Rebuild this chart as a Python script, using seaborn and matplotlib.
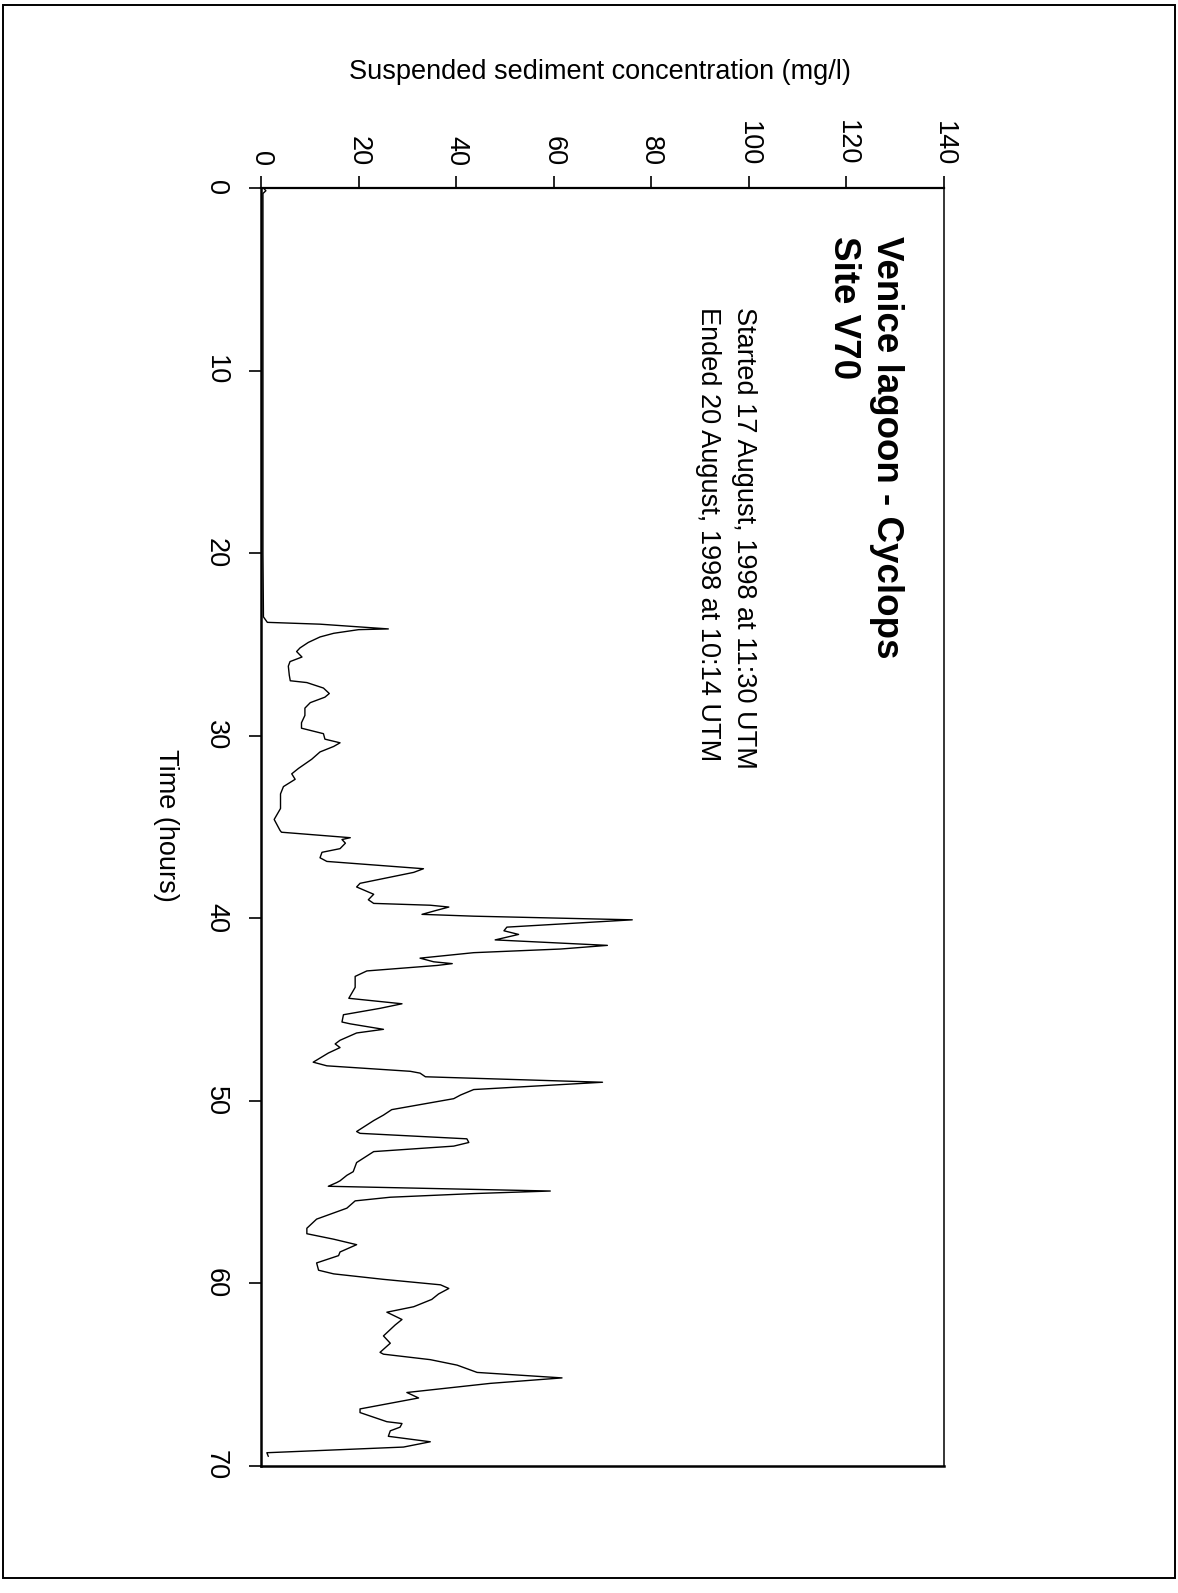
import matplotlib
matplotlib.use("Agg")
import matplotlib.pyplot as plt
from matplotlib.patches import Rectangle
import seaborn as sns
import pandas as pd

# Suspended sediment record, Venice lagoon site V70 (Cyclops sensor)
time_hours = [
    0.0, 0.15, 0.3, 5.0, 10.0, 15.0, 20.0, 23.5, 23.8, 23.9, 24.16, 24.2, 24.4, 24.6,
    24.9, 25.2, 25.4, 25.7, 25.95, 26.2, 26.7, 27.0, 27.1, 27.4, 27.7, 27.9,
    28.2, 28.5, 28.9, 29.3, 29.6, 29.9, 30.2, 30.4, 30.6, 30.9, 31.3, 31.8,
    32.1, 32.4, 32.8, 33.2, 34.0, 34.6, 35.2, 35.3, 35.6, 35.7, 35.9, 36.2,
    36.4, 36.7, 36.9, 37.3, 37.5, 38.1, 38.3, 38.7, 39.0, 39.2, 39.3, 39.4,
    39.6, 39.8, 39.9, 40.1, 40.5, 40.7, 40.9, 41.2, 41.5, 41.7, 41.9, 42.2,
    42.4, 42.5, 42.6, 42.9, 43.2, 43.8, 44.4, 44.7, 44.95, 45.3, 45.7, 45.8,
    46.1, 46.3, 46.7, 46.9, 47.1, 47.4, 47.9, 48.1, 48.4, 48.5, 48.7, 49.0,
    49.4, 49.7, 49.9, 50.5, 50.8, 51.1, 51.7, 51.8, 52.1, 52.3, 52.5, 52.8,
    53.4, 53.9, 54.1, 54.4, 54.5, 54.7, 54.96, 55.1, 55.3, 55.5, 55.9, 56.5,
    57.0, 57.3, 57.6, 57.9, 58.3, 58.5, 58.9, 59.3, 59.5, 59.8, 60.1, 60.3,
    60.6, 60.9, 61.3, 61.6, 62.0, 62.3, 62.9, 63.3, 63.8, 63.9, 64.2, 64.5,
    64.9, 65.2, 65.5, 66.0, 66.3, 66.9, 67.1, 67.6, 67.7, 67.9, 68.1, 68.4,
    68.7, 68.99, 69.3, 69.5,
]
concentration_mgl = [
    0.5, 1.0, 0.4, 0.4, 0.4, 0.4, 0.4, 0.5, 1.3, 12.1, 26.1, 20.0, 14.9, 12.1,
    9.7, 8.0, 7.3, 8.4, 5.95, 5.6, 5.8, 6.0, 9.4, 12.8, 14.0, 13.1,
    10.1, 9.0, 9.0, 8.3, 8.3, 12.8, 13.1, 16.2, 14.9, 12.1, 10.4, 7.7,
    6.3, 7.0, 4.6, 4.0, 4.0, 2.7, 3.9, 4.2, 18.3, 16.6, 17.3, 16.2,
    12.5, 12.1, 13.5, 33.3, 31.3, 20.3, 19.6, 23.1, 22.0, 23.1, 34.7, 38.5,
    35.7, 33.0, 43.6, 76.1, 50.4, 49.8, 52.8, 48.0, 71.0, 61.4, 43.6, 32.6,
    35.4, 39.2, 36.1, 21.7, 19.3, 19.3, 18.0, 28.9, 24.4, 16.9, 16.6, 18.3,
    25.1, 19.6, 16.2, 15.2, 16.2, 13.8, 10.7, 13.5, 30.6, 32.6, 33.7, 70.0,
    43.6, 40.9, 39.5, 26.8, 25.1, 23.1, 19.6, 20.3, 42.2, 42.6, 39.5, 23.1,
    19.6, 18.9, 17.6, 16.2, 15.5, 13.8, 59.3, 43.6, 26.5, 19.3, 17.6, 11.4,
    9.4, 9.4, 14.9, 19.6, 16.2, 15.9, 11.4, 11.8, 14.9, 25.1, 36.8, 38.5,
    36.4, 35.0, 31.3, 25.8, 28.9, 27.5, 25.1, 26.5, 24.4, 25.1, 34.7, 40.2,
    44.3, 61.7, 47.0, 29.9, 32.3, 20.3, 20.3, 25.8, 28.9, 28.5, 26.5, 26.1,
    34.7, 29.2, 1.2, 1.5,
]
conc_ticks = [0, 20, 40, 60, 80, 100, 120, 140]
time_ticks = [0, 10, 20, 30, 40, 50, 60, 70]

title_lines = ["Venice lagoon - Cyclops", "Site V70"]
info_lines = ["Started 17 August, 1998 at 11:30 UTM",
              "Ended 20 August, 1998 at 10:14 UTM"]

df = pd.DataFrame({"time": time_hours, "conc": concentration_mgl})

sns.set_theme(style="white")
plt.rcParams["font.family"] = ["Liberation Sans", "DejaVu Sans"]
plt.rcParams["text.color"] = "black"
plt.rcParams["xtick.color"] = "black"
plt.rcParams["ytick.color"] = "black"
plt.rcParams["axes.labelcolor"] = "black"

W, H = 1178, 1593
fig = plt.figure(figsize=(W / 100, H / 100), dpi=100)
fig.patch.set_facecolor("white")

# page frame
fig.add_artist(Rectangle((3 / W, 1 - 1578 / H), (1175 - 3) / W, (1578 - 5) / H,
                         transform=fig.transFigure, fill=False,
                         edgecolor="black", linewidth=1.4))

ax_l, ax_r = 261 / W, 944 / W
ax_t, ax_b = 1 - 188 / H, 1 - 1465.5 / H
ax = fig.add_axes([ax_l, ax_b, ax_r - ax_l, ax_t - ax_b])
ax.set_facecolor("white")

sns.lineplot(data=df, x="conc", y="time", orient="y", sort=False,
             estimator=None, color="black", linewidth=1.0, ax=ax)

ax.set_xlim(0, 140)
ax.set_ylim(70, 0)
ax.set_xticks(conc_ticks)
ax.set_yticks(time_ticks)
ax.xaxis.tick_top()
ax.set_xticklabels([str(v) for v in conc_ticks], rotation=-90, fontsize=19.5)
ax.set_yticklabels([str(v) for v in time_ticks], rotation=-90, fontsize=19.5,
                   va="center")
ax.tick_params(axis="x", direction="out", length=9, width=1.2, pad=7,
               colors="black", top=True, bottom=False)
ax.tick_params(axis="y", direction="out", length=9, width=1.2, pad=14,
               colors="black", left=True)
ax.set_xlabel("")
ax.set_ylabel("")
for side, lw in [("left", 1.8), ("top", 1.6), ("bottom", 1.8), ("right", 1.1)]:
    ax.spines[side].set_visible(True)
    ax.spines[side].set_color("black")
    ax.spines[side].set_linewidth(lw)

# axis titles
fig.text(600 / W, 1 - 72 / H, "Suspended sediment concentration (mg/l)",
         ha="center", va="center", fontsize=19.5)
fig.text(166 / W, 1 - 825 / H, "Time (hours)", rotation=-90,
         ha="center", va="center", fontsize=19.5)

# heading block inside the plot
fig.text(887 / W, 1 - 236 / H, title_lines[0], rotation=-90, ha="center",
         va="top", fontsize=26.5, fontweight="bold")
fig.text(843 / W, 1 - 236 / H, title_lines[1], rotation=-90, ha="center",
         va="top", fontsize=26.5, fontweight="bold")
fig.text(744 / W, 1 - 307 / H, info_lines[0], rotation=-90, ha="center",
         va="top", fontsize=19.5)
fig.text(708 / W, 1 - 307 / H, info_lines[1], rotation=-90, ha="center",
         va="top", fontsize=19.5)

fig.savefig("out.png", dpi=100, facecolor="white")
